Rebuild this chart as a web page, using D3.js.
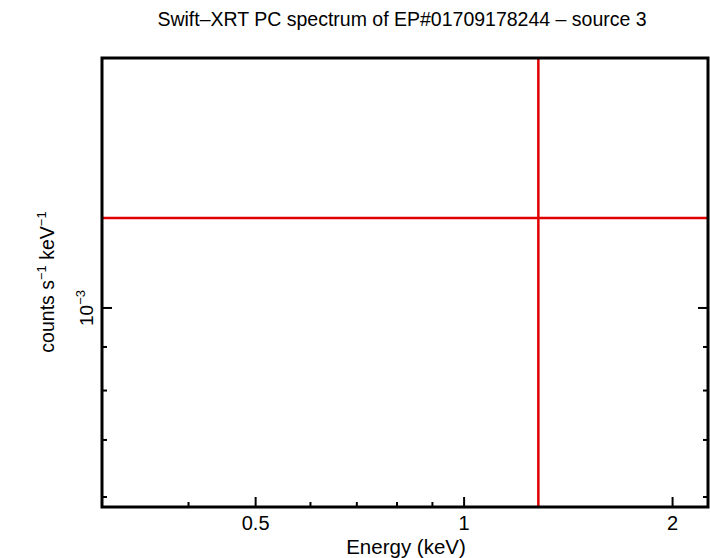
<!DOCTYPE html>
<html><head><meta charset="utf-8">
<script src="https://cdn.jsdelivr.net/npm/d3@7"></script>
<style>body{margin:0;background:#fff}text{font-family:"Liberation Sans",Arial,sans-serif}</style>
</head><body><svg id="chart" width="710" height="558"></svg>
<script>
const xDomain = [0.3, 2.25];
const yDomain = [5.84e-4, 1.965e-3];
const xMajor = [0.5, 1, 2];
const xMinor = [0.3, 0.4, 0.6, 0.7, 0.8, 0.9];
const yMajor = [1e-3];
const yMinor = [6e-4, 7e-4, 8e-4, 9e-4];
const markerX = [1.28];
const markerY = [1.275e-3];

const svg = d3.select('#chart');
const L = 102, R = 708, T = 58, B = 507;
const x = d3.scaleLog().domain(xDomain).range([L, R]);
const y = d3.scaleLog().domain(yDomain).range([B, T]);

// title
svg.append('text').attr('x', 402).attr('y', 26).attr('text-anchor', 'middle')
  .attr('font-size', 19.5).text('Swift\u2013XRT PC spectrum of EP#01709178244 \u2013 source 3');

// red cross lines
svg.selectAll('.vl').data(markerX).enter().append('line')
  .attr('x1', d => x(d)).attr('x2', d => x(d)).attr('y1', T).attr('y2', B)
  .attr('stroke', '#e00000').attr('stroke-width', 2.5);
svg.selectAll('.hl').data(markerY).enter().append('line')
  .attr('x1', L).attr('x2', R).attr('y1', d => y(d)).attr('y2', d => y(d))
  .attr('stroke', '#e00000').attr('stroke-width', 2.5);

// ticks (inward)
const tick = (vals, len, horiz) => {
  vals.forEach(v => {
    if (horiz) {
      const px = x(v);
      svg.append('line').attr('x1', px).attr('x2', px).attr('y1', B).attr('y2', B - len).attr('stroke', '#000').attr('stroke-width', 2);
    } else {
      const py = y(v);
      svg.append('line').attr('x1', L).attr('x2', L + len).attr('y1', py).attr('y2', py).attr('stroke', '#000').attr('stroke-width', 2);
      svg.append('line').attr('x1', R).attr('x2', R - len).attr('y1', py).attr('y2', py).attr('stroke', '#000').attr('stroke-width', 2);
    }
  });
};
tick(xMajor, 10, true); tick(xMinor, 5, true);
tick(yMajor, 10, false); tick(yMinor, 5, false);

// frame
svg.append('rect').attr('x', L).attr('y', T).attr('width', R - L).attr('height', B - T)
  .attr('fill', 'none').attr('stroke', '#000').attr('stroke-width', 3);

// x tick labels
svg.selectAll('.xl').data(xMajor).enter().append('text')
  .attr('x', d => x(d)).attr('y', 530).attr('text-anchor', 'middle').attr('font-size', 20)
  .text(d => d3.format('')(d));

svg.append('text').attr('x', 406).attr('y', 554).attr('text-anchor', 'middle')
  .attr('font-size', 20.5).text('Energy (keV)');

// y tick labels
yMajor.forEach(v => {
  const t = svg.append('text').attr('transform', `translate(93,${y(v)}) rotate(-90)`)
    .attr('text-anchor', 'middle').attr('font-size', 19);
  t.append('tspan').text('10');
  t.append('tspan').attr('dy', -8).attr('font-size', 13).text('\u22123');
});

const yl = svg.append('text').attr('transform', 'translate(54,282) rotate(-90)')
  .attr('text-anchor', 'middle').attr('font-size', 19.5);
yl.append('tspan').text('counts s');
yl.append('tspan').attr('dy', -8).attr('font-size', 13).text('\u22121');
yl.append('tspan').attr('dy', 8).text(' keV');
yl.append('tspan').attr('dy', -8).attr('font-size', 13).text('\u22121');
</script></body></html>
